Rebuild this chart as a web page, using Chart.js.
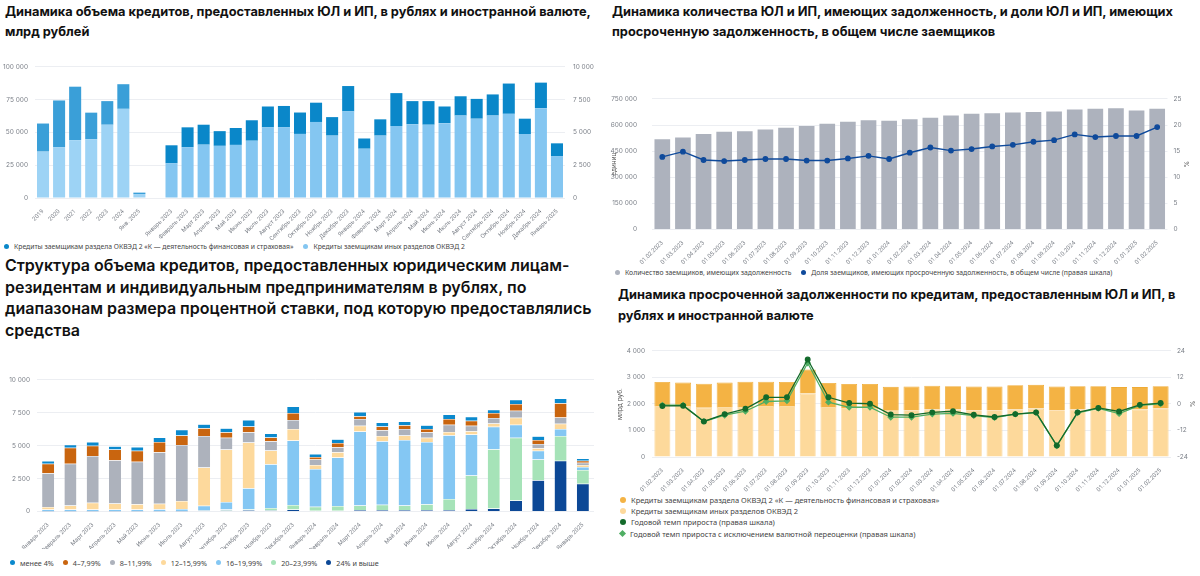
<!DOCTYPE html>
<html lang="ru">
<head>
<meta charset="utf-8">
<title>Кредиты ЮЛ и ИП</title>
<script src="https://cdn.jsdelivr.net/npm/chart.js@4.4.1/dist/chart.umd.min.js"></script>
<style>
  html, body { margin: 0; padding: 0; background: #fff; }
  #page { position: relative; width: 1200px; height: 576px; overflow: hidden; font-family: Inter, "Noto Sans", sans-serif; }
  .title { position: absolute; margin: 0; color: #111; white-space: nowrap; }
  .title.small { font-size: 12.8px; font-weight: 700; line-height: 19.5px; }
  .title.big { font-size: 16px; font-weight: 600; line-height: 21.5px; }
  .box { position: absolute; }
  .legend { position: absolute; font-family: "Noto Sans", sans-serif; font-size: 6.8px; color: #444; white-space: nowrap; }
  .legend .item { display: inline-flex; align-items: center; margin-right: 10px; }
  .legend .dot { display: inline-block; width: 5px; height: 5px; border-radius: 50%; margin-right: 5px; }
  .legend.rows .item { display: flex; height: 11.3px; margin-right: 0; }
  .legend.rows .dot { width: 6px; height: 6px; margin-right: 5px; }
  .legend .dot.diamond { border-radius: 0; width: 5px; height: 5px; transform: rotate(45deg); }
  #rates-legend .item { margin-right: 9px; }
</style>
</head>
<body>
<div id="page">
  <h2 class="title small" style="left:5px; top:2px;">Динамика объема кредитов, предоставленных ЮЛ и ИП, в рублях и иностранной валюте,<br>млрд рублей</h2>
  <div class="box" style="left:0; top:55px; width:600px; height:185px;"><canvas id="volume"></canvas></div>
  <div class="legend" id="volume-legend" style="left:4px; top:242px;"></div>

  <h2 class="title small" style="left:612px; top:2px;">Динамика количества ЮЛ и ИП, имеющих задолженность, и доли ЮЛ и ИП, имеющих<br>просроченную задолженность, в общем числе заемщиков</h2>
  <div class="box" style="left:600px; top:80px; width:600px; height:184px;"><canvas id="borrowers"></canvas></div>
  <div class="legend" id="borrowers-legend" style="left:615px; top:268px;"></div>

  <h2 class="title big" style="left:5px; top:255px;">Структура объема кредитов, предоставленных юридическим лицам-<br>резидентам и индивидуальным предпринимателям в рублях, по<br>диапазонам размера процентной ставки, под которую предоставлялись<br>средства</h2>
  <div class="box" style="left:0; top:369px; width:600px; height:180px;"><canvas id="rates"></canvas></div>
  <div class="legend" id="rates-legend" style="left:10px; top:557px; font-size:7.2px;"></div>

  <h2 class="title small" style="left:618px; top:284px; line-height:21px;">Динамика просроченной задолженности по кредитам, предоставленным ЮЛ и ИП, в<br>рублях и иностранной валюте</h2>
  <div class="box" style="left:600px; top:340px; width:600px; height:152px;"><canvas id="overdue"></canvas></div>
  <div class="legend rows" id="overdue-legend" style="left:620px; top:494px; font-size:7.5px;"></div>
</div>

<script>
// ---- chart 1: volume of loans (annual on left axis, monthly on right axis)
const yearLabels = ['2019', '2020', '2021', '2022', '2023', '2024', 'Янв. 2025'];
const monthLabels = ['Январь 2023', 'Февраль 2023', 'Март 2023', 'Апрель 2023', 'Май 2023', 'Июнь 2023',
  'Июль 2023', 'Август 2023', 'Сентябрь 2023', 'Октябрь 2023', 'Ноябрь 2023', 'Декабрь 2023',
  'Январь 2024', 'Февраль 2024', 'Март 2024', 'Апрель 2024', 'Май 2024', 'Июнь 2024',
  'Июль 2024', 'Август 2024', 'Сентябрь 2024', 'Октябрь 2024', 'Ноябрь 2024', 'Декабрь 2024', 'Январь 2025'];

const yearOther = [35400, 38800, 44100, 44900, 55900, 68000, 3000];
const yearFin = [21400, 35600, 40800, 20200, 18000, 18800, 1100];
const monthOther = [2660, 3880, 4070, 3980, 4050, 4370, 5390, 5390, 4890, 5800, 4760, 6610,
  3760, 4760, 5490, 5630, 5590, 5710, 6290, 6050, 6290, 6420, 4880, 6850, 3200];
const monthFin = [1360, 1510, 1520, 1120, 1290, 1560, 1590, 1630, 1630, 1470, 1410, 1930,
  780, 1240, 2510, 1760, 1800, 1270, 1470, 1510, 1610, 2310, 1170, 1950, 970];

// ---- chart 2: number of borrowers and overdue share
const dates = ['01.02.2023', '01.03.2023', '01.04.2023', '01.05.2023', '01.06.2023', '01.07.2023',
  '01.08.2023', '01.09.2023', '01.10.2023', '01.11.2023', '01.12.2023', '01.01.2024',
  '01.02.2024', '01.03.2024', '01.04.2024', '01.05.2024', '01.06.2024', '01.07.2024',
  '01.08.2024', '01.09.2024', '01.10.2024', '01.11.2024', '01.12.2024', '01.01.2025', '01.02.2025'];
const borrowerCount = [518500, 529000, 548000, 562000, 564000, 574000, 585000, 595000, 607000, 619000, 628000, 625000,
  633000, 642000, 654000, 665000, 668000, 672000, 675000, 677000, 689000, 693000, 696000, 684000, 694000];
const overdueShare = [13.9, 14.9, 13.3, 13.1, 13.3, 13.5, 13.5, 13.2, 13.2, 13.6, 14.1, 13.5,
  14.7, 15.7, 15.1, 15.4, 15.9, 16.2, 16.8, 17.1, 18.2, 17.7, 17.9, 17.9, 19.6];

// ---- chart 3: structure by interest rate range (bottom of stack first)
const rate24 = [10, 10, 10, 10, 10, 10, 15, 60, 70, 100, 70, 150, 50, 50, 120, 120, 120, 120, 120, 195, 220, 830, 2370, 3850, 2100];
const rate20 = [20, 20, 20, 20, 20, 20, 20, 20, 80, 70, 200, 340, 320, 360, 340, 390, 340, 440, 830, 2535, 4510, 4780, 1580, 1880, 1050];
const rate16 = [120, 120, 120, 120, 120, 140, 160, 360, 580, 1590, 3320, 4900, 2850, 3690, 5610, 4830, 4980, 4730, 4850, 3120, 1710, 980, 660, 540, 240];
const rate12 = [190, 310, 510, 460, 410, 415, 605, 2900, 3980, 3480, 1040, 880, 320, 410, 440, 390, 340, 320, 250, 250, 240, 530, 190, 390, 150];
const rate8 = [2560, 3170, 3560, 3290, 3220, 3925, 4250, 2390, 900, 780, 710, 680, 410, 370, 510, 440, 490, 410, 540, 410, 420, 540, 320, 490, 170];
const rate4 = [730, 1220, 780, 810, 830, 780, 730, 590, 410, 440, 290, 540, 200, 320, 220, 290, 290, 250, 430, 390, 390, 510, 320, 1070, 140];
const rate0 = [200, 220, 290, 240, 290, 340, 440, 310, 300, 490, 300, 490, 220, 290, 320, 300, 270, 290, 350, 300, 240, 320, 270, 370, 170];

// ---- chart 4: overdue debt and growth rates
const overdueOther = [1920, 1920, 1860, 1885, 1885, 1920, 1920, 2390, 1885, 1850, 1850, 1740,
  1765, 1790, 1790, 1765, 1765, 1790, 1825, 1765, 1790, 1790, 1765, 1790, 1835];
const overdueFin = [910, 885, 905, 920, 955, 920, 910, 910, 905, 905, 905, 905,
  895, 895, 880, 895, 895, 915, 895, 895, 880, 880, 870, 845, 835];
const growth = [-0.9, -0.8, -7.9, -4.6, -2.2, 3.0, 3.0, 20.1, 3.0, 0.4, 0.1, -4.8,
  -5.1, -3.8, -3.3, -4.9, -5.9, -4.6, -3.8, -18.8, -3.8, -1.8, -3.4, -0.4, 0.4];
const growthExFx = [-0.5, -0.5, -7.9, -5.1, -3.3, 1.1, 1.4, 18.5, 0.8, -1.5, -1.5, -6.0,
  -6.0, -4.6, -4.3, -5.3, -6.2, -4.6, -4.0, -18.9, -4.0, -2.0, -4.4, -0.6, 0.1];

const LABEL_FIN = 'Кредиты заемщикам раздела ОКВЭД 2 «К — деятельность финансовая и страховая»';
const LABEL_OTHER = 'Кредиты заемщикам иных разделов ОКВЭД 2';

const tickFont = { family: 'Inter', size: 6.5 };
const xTickFont = { family: 'Roboto', size: 6 };
const tickColor = '#7a7f87';
const gridColor = '#eceef2';

function spaced(v) {
  return String(v).replace(/\B(?=(\d{3})+(?!\d))/g, ' ');
}

function fixWidth(w) { return (scale) => { scale.width = w; }; }
function fixHeight(h) { return (scale) => { scale.height = h; }; }

function xAxis(height) {
  return {
    stacked: true,
    grid: { display: false },
    border: { display: false },
    ticks: { autoSkip: false, minRotation: 45, maxRotation: 45, font: xTickFont, color: tickColor, padding: 2 },
    afterFit: fixHeight(height)
  };
}

function valueAxis(opts) {
  return Object.assign({
    stacked: true,
    border: { display: false },
    grid: { color: gridColor, drawTicks: false },
  }, opts);
}

function renderLegend(id, items) {
  const el = document.getElementById(id);
  el.innerHTML = items.map((it) =>
    '<span class="item"><span class="dot' + (it.diamond ? ' diamond' : '') + '" style="background:' + it.color + '"></span>' + it.label + '</span>'
  ).join('');
}

Chart.defaults.animation = false;
Chart.defaults.responsive = true;
Chart.defaults.maintainAspectRatio = false;
Chart.defaults.plugins.legend.display = false;
Chart.defaults.plugins.tooltip.enabled = false;

// Chart 1
const BLUE_DARK = '#0a87c9', BLUE_LIGHT = '#84c6f1';
const BLUE_DARK_Y = '#3a9fd8', BLUE_LIGHT_Y = '#9dd3f5';
const gap = [null];
const emptyMonths = monthLabels.map(() => null);
const emptyYears = yearLabels.map(() => null).concat(gap);

new Chart(document.getElementById('volume'), {
  type: 'bar',
  data: {
    labels: yearLabels.concat([''], monthLabels),
    datasets: [
      { label: LABEL_OTHER, data: yearOther.concat(gap, emptyMonths), yAxisID: 'y', backgroundColor: BLUE_LIGHT_Y, stack: 's' },
      { label: LABEL_FIN, data: yearFin.concat(gap, emptyMonths), yAxisID: 'y', backgroundColor: BLUE_DARK_Y, stack: 's' },
      { label: LABEL_OTHER, data: emptyYears.concat(monthOther), yAxisID: 'y1', backgroundColor: BLUE_LIGHT, stack: 's' },
      { label: LABEL_FIN, data: emptyYears.concat(monthFin), yAxisID: 'y1', backgroundColor: BLUE_DARK, stack: 's' }
    ]
  },
  options: {
    layout: { padding: { top: 6 } },
    datasets: { bar: { barPercentage: 0.75, categoryPercentage: 1, skipNull: true } },
    scales: {
      x: xAxis(42),
      y: valueAxis({ min: 0, max: 100000, ticks: { stepSize: 25000, font: tickFont, color: tickColor, padding: 7, callback: spaced }, afterFit: fixWidth(35) }),
      y1: valueAxis({ position: 'right', min: 0, max: 10000, grid: { drawOnChartArea: false, drawTicks: false },
        ticks: { stepSize: 2500, font: tickFont, color: tickColor, padding: 8, callback: spaced }, afterFit: fixWidth(35) })
    }
  }
});
renderLegend('volume-legend', [
  { label: LABEL_FIN, color: BLUE_DARK },
  { label: LABEL_OTHER, color: BLUE_LIGHT }
]);

// Chart 2
const GRAY = '#adb2bd', NAVY = '#0f4a9b';
const borrowersChart = new Chart(document.getElementById('borrowers'), {
  data: {
    labels: dates,
    datasets: [
      { type: 'bar', label: 'Количество заемщиков, имеющих задолженность', data: borrowerCount, yAxisID: 'y',
        backgroundColor: GRAY, barPercentage: 0.76, categoryPercentage: 1, order: 1 },
      { type: 'line', label: 'Доля заемщиков, имеющих просроченную задолженность, в общем числе (правая шкала)', data: overdueShare,
        yAxisID: 'y1', borderColor: NAVY, backgroundColor: NAVY, borderWidth: 1.4, pointRadius: 2.2, tension: 0, order: 0 }
    ]
  },
  options: {
    layout: { padding: { top: 6 } },
    scales: {
      x: xAxis(34.5),
      y: valueAxis({ stacked: false, min: 0, max: 750000,
        title: { display: true, text: 'единиц', font: { family: 'Inter', size: 6.5 }, color: '#555', padding: { top: 10 } },
        ticks: { stepSize: 150000, font: tickFont, color: tickColor, padding: 15, callback: spaced }, afterFit: fixWidth(52) }),
      y1: valueAxis({ stacked: false, position: 'right', min: 0, max: 25, grid: { drawOnChartArea: false, drawTicks: false },
        title: { display: true, text: '%', font: { family: 'Inter', size: 6.5 }, color: '#555', padding: { top: 10 } },
        ticks: { stepSize: 5, font: tickFont, color: tickColor, padding: 6 }, afterFit: fixWidth(32.5) })
    }
  }
});
renderLegend('borrowers-legend', borrowersChart.data.datasets.map((d) => ({ label: d.label, color: d.backgroundColor })));

// Chart 3
const rateSeries = [
  { label: '24% и выше', data: rate24, color: '#0c4896' },
  { label: '20–23,99%', data: rate20, color: '#a6e3b8' },
  { label: '16–19,99%', data: rate16, color: '#84c7f3' },
  { label: '12–15,99%', data: rate12, color: '#fdd99c' },
  { label: '8–11,99%', data: rate8, color: '#adb2bc' },
  { label: '4–7,99%', data: rate4, color: '#c9650f' },
  { label: 'менее 4%', data: rate0, color: '#0b89cd' }
];
new Chart(document.getElementById('rates'), {
  type: 'bar',
  data: {
    labels: monthLabels,
    datasets: rateSeries.map((s) => ({ label: s.label, data: s.data, backgroundColor: s.color,
      borderColor: 'rgba(255,255,255,0.6)', borderWidth: { top: 0.5 }, barPercentage: 0.54, categoryPercentage: 1 }))
  },
  options: {
    layout: { padding: { top: 6, right: 6 } },
    scales: {
      x: xAxis(37.5),
      y: valueAxis({ min: 0, max: 10000, ticks: { stepSize: 2500, font: tickFont, color: tickColor, padding: 7, callback: spaced }, afterFit: fixWidth(37) })
    }
  }
});
renderLegend('rates-legend', rateSeries.slice().reverse().map((s) => ({ label: s.label, color: s.color })));

// Chart 4 (peach stacks first, orange on top; lines drawn over the bars)
const ORANGE = '#f4b344', PEACH = '#fdd99b', GREEN_DARK = '#136a2b', GREEN_LIGHT = '#4fae63';
const overdueChart = new Chart(document.getElementById('overdue'), {
  data: {
    labels: dates,
    datasets: [
      { type: 'bar', label: LABEL_FIN, data: overdueFin, yAxisID: 'y', backgroundColor: ORANGE, borderColor: '#efab35', borderWidth: 0.8,
        barPercentage: 0.77, categoryPercentage: 1, order: 2, stack: 's' },
      { type: 'bar', label: LABEL_OTHER, data: overdueOther, yAxisID: 'y', backgroundColor: PEACH, borderColor: '#fbd391', borderWidth: 0.8,
        barPercentage: 0.77, categoryPercentage: 1, order: 1, stack: 's' },
      { type: 'line', label: 'Годовой темп прироста (правая шкала)', data: growth, yAxisID: 'y1',
        borderColor: GREEN_DARK, backgroundColor: GREEN_DARK, borderWidth: 1.3, pointRadius: 2.3, tension: 0, order: 0 },
      { type: 'line', label: 'Годовой темп прироста с исключением валютной переоценки (правая шкала)', data: growthExFx, yAxisID: 'y1',
        borderColor: GREEN_LIGHT, backgroundColor: GREEN_LIGHT, borderWidth: 1.3, pointStyle: 'rectRot', pointRadius: 2.5, tension: 0, order: 0 }
    ]
  },
  options: {
    layout: { padding: { top: 6.7 } },
    scales: {
      x: xAxis(35),
      y: valueAxis({ min: 0, max: 4000,
        title: { display: true, text: 'млрд руб.', font: { family: 'Inter', size: 6.5 }, color: '#555', padding: { top: 16 } },
        ticks: { stepSize: 1000, font: tickFont, color: tickColor, padding: 7, callback: spaced }, afterFit: fixWidth(52) }),
      y1: valueAxis({ stacked: false, position: 'right', min: -24, max: 24, grid: { drawOnChartArea: false, drawTicks: false },
        title: { display: true, text: '%', font: { family: 'Inter', size: 6.5 }, color: '#555', padding: { top: 4 } },
        ticks: { stepSize: 12, font: tickFont, color: tickColor, padding: 6 }, afterFit: fixWidth(29) })
    }
  }
});
renderLegend('overdue-legend', overdueChart.data.datasets.map((d) => ({
  label: d.label, color: d.backgroundColor, diamond: d.pointStyle === 'rectRot'
})));
</script>
</body>
</html>
